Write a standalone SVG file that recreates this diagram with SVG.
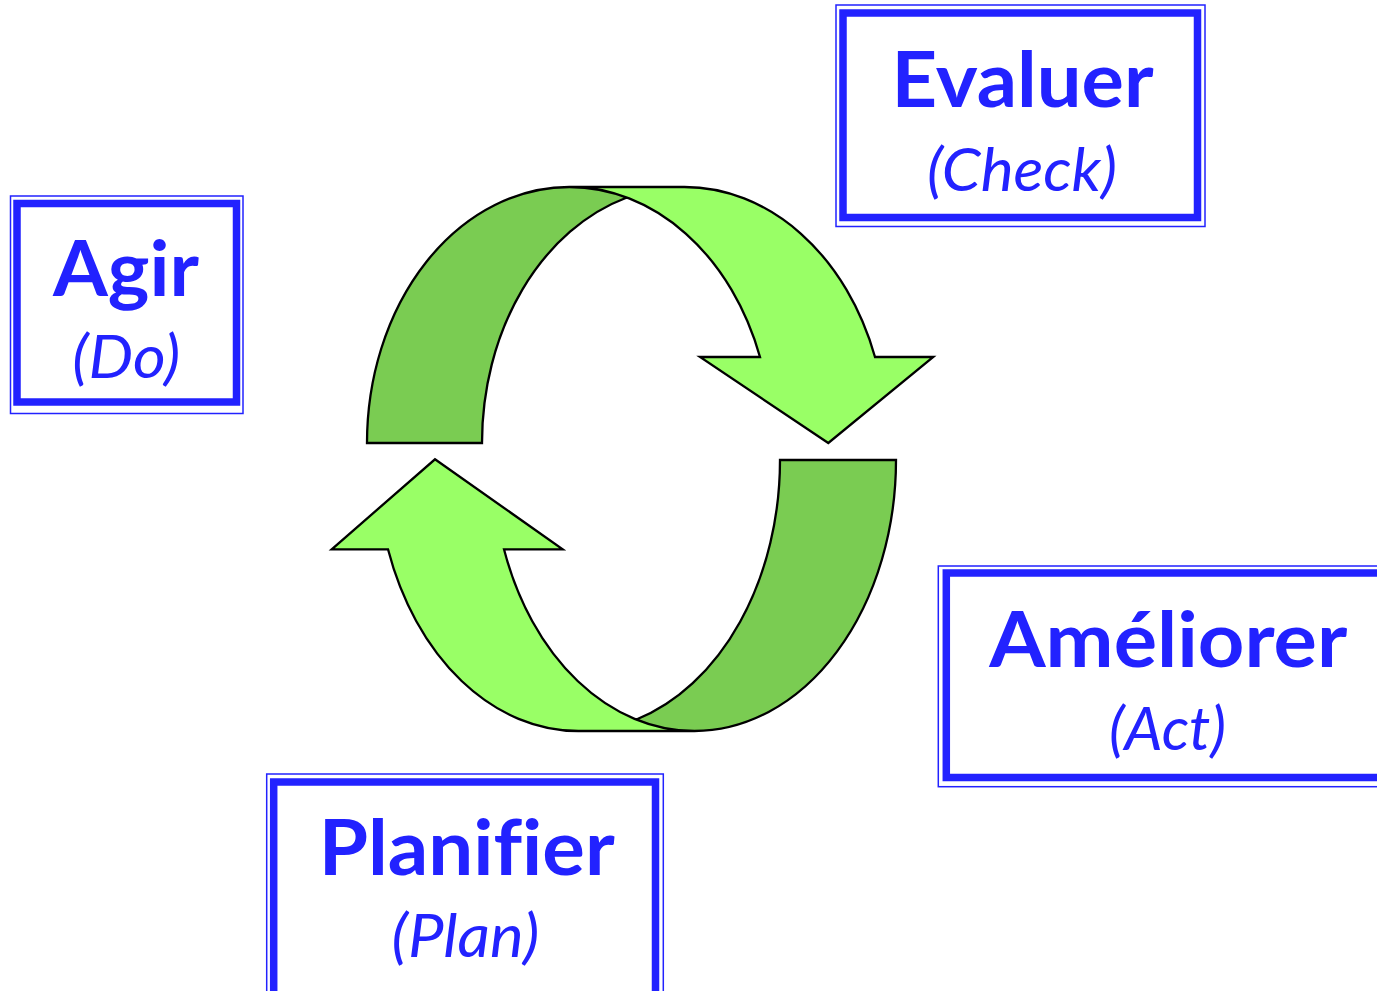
<svg xmlns="http://www.w3.org/2000/svg" width="1377" height="991" viewBox="0 0 1377 991">
<style>
.thick{fill:none;stroke:#2222FF;stroke-width:7.5}
.thin{fill:none;stroke:#2222FF;stroke-width:1.5}
.t1{font-family:Lato,"Open Sans","Liberation Sans",sans-serif;font-weight:bold;font-size:77px;fill:#2222FF;text-anchor:middle;font-variant-ligatures:none;font-feature-settings:"liga" 0}
.t2{font-family:Lato,"Open Sans","Liberation Sans",sans-serif;font-style:italic;font-size:60px;fill:#2222FF;text-anchor:middle;font-variant-ligatures:none;font-feature-settings:"liga" 0}
.light{fill:#99FF66;stroke:none}
.dark{fill:#7ACC52;stroke:none}
.outline{fill:none;stroke:#000;stroke-width:2.3;stroke-linejoin:miter}
</style>
<rect width="1377" height="991" fill="#fff"/>
<g id="connectors">
  <g id="arrow-top">
    <path class="light" d="M 828.3 443 L 700 357 L 760 357 A 202.4 256 0 0 0 569.4 187 L 684.4 187 A 202.4 256 0 0 1 875 357 L 933.3 357 Z"/>
    <path class="dark" d="M 626.9 197.5 A 202.4 256 0 0 0 482 443 L 367 443 A 202.4 256 0 0 1 626.9 197.5 Z"/>
    <path class="outline" d="M 626.9 197.5 A 202.4 256 0 0 0 482 443 L 367 443 A 202.4 256 0 0 1 569.4 187 L 684.4 187 A 202.4 256 0 0 1 875 357 L 933.3 357 L 828.3 443 L 700 357 L 760 357 A 202.4 256 0 0 0 569.4 187"/>
  </g>
  <g id="arrow-bottom">
    <path class="light" d="M 435 459.3 L 562.7 549.3 L 504 549.3 A 201.6 271 0 0 0 694.4 731 L 578.4 731 A 201.6 271 0 0 1 388 549.3 L 331.7 549.3 Z"/>
    <path class="dark" d="M 636.4 719.5 A 201.6 271 0 0 0 780 460 L 896 460 A 201.6 271 0 0 1 636.4 719.5 Z"/>
    <path class="outline" d="M 636.4 719.5 A 201.6 271 0 0 0 780 460 L 896 460 A 201.6 271 0 0 1 694.4 731 L 578.4 731 A 201.6 271 0 0 1 388 549.3 L 331.7 549.3 L 435 459.3 L 562.7 549.3 L 504 549.3 A 201.6 271 0 0 0 694.4 731"/>
  </g>
</g>
<g id="node-evaluer">
  <rect class="thin" x="836" y="5" width="369" height="221.5"/>
  <rect class="thick" x="843" y="13" width="354.5" height="204.5"/>
  <text class="t1" x="1022.5" y="107" textLength="262" lengthAdjust="spacingAndGlyphs">Evaluer</text>
  <text class="t2" x="1022" y="191" textLength="190" lengthAdjust="spacingAndGlyphs">(Check)</text>
</g>
<g id="node-agir">
  <rect class="thin" x="10.5" y="196" width="232.5" height="217.5"/>
  <rect class="thick" x="17" y="203.5" width="219.5" height="198.5"/>
  <text class="t1" x="126" y="296" textLength="146" lengthAdjust="spacingAndGlyphs">Agir</text>
  <text class="t2" x="126.3" y="378" textLength="108" lengthAdjust="spacingAndGlyphs">(Do)</text>
</g>
<g id="node-ameliorer">
  <rect class="thin" x="938.3" y="566" width="460" height="220.7"/>
  <rect class="thick" x="946.3" y="573" width="460" height="204.5"/>
  <text class="t1" x="1168.3" y="667" textLength="358" lengthAdjust="spacingAndGlyphs">Améliorer</text>
  <text class="t2" x="1167.5" y="750" textLength="117" lengthAdjust="spacingAndGlyphs">(Act)</text>
</g>
<g id="node-planifier">
  <rect class="thin" x="266.7" y="774" width="396.6" height="240"/>
  <rect class="thick" x="273.7" y="782" width="381.8" height="240"/>
  <text class="t1" x="466.7" y="875" textLength="296" lengthAdjust="spacingAndGlyphs">Planifier</text>
  <text class="t2" x="465.5" y="957" textLength="148" lengthAdjust="spacingAndGlyphs">(Plan)</text>
</g>
</svg>
